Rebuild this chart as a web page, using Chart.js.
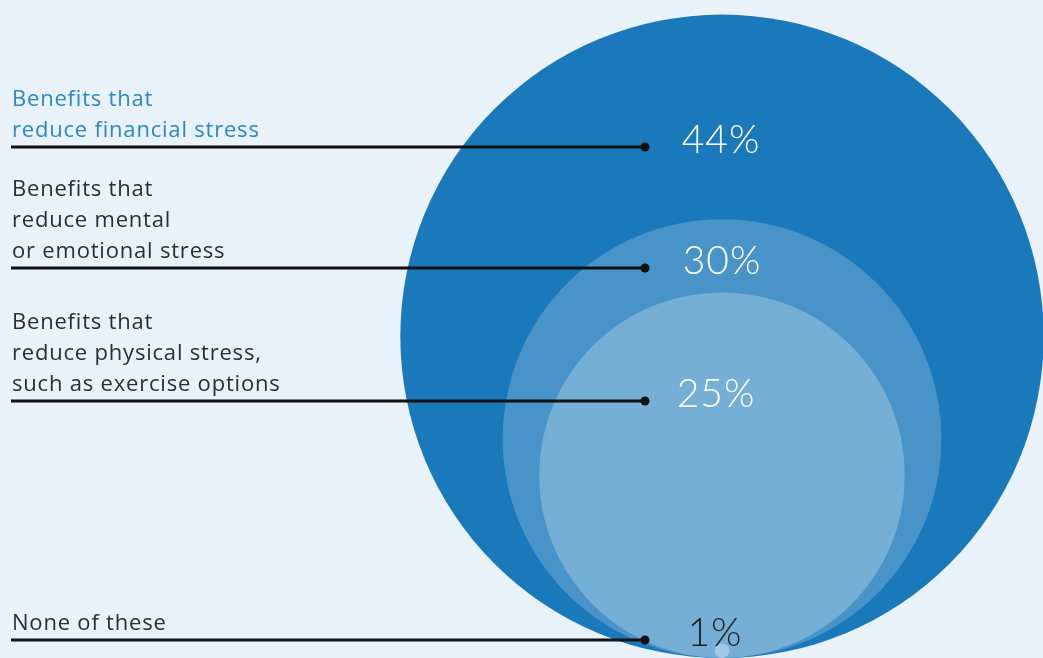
<!DOCTYPE html>
<html>
<head>
<meta charset="utf-8">
<title>Stress-reducing benefits</title>
<script src="https://cdn.jsdelivr.net/npm/chart.js@4/dist/chart.umd.min.js"></script>
<style>
  html, body { margin: 0; padding: 0; background: #e9f1f9; }
  #wrap { position: relative; width: 1043px; height: 658px; }
</style>
</head>
<body>
<div id="wrap"><canvas id="chart"></canvas></div>
<script>
// Share of respondents per benefit type (radius of each circle follows the value)
const categories = [
    ['Benefits that', 'reduce financial stress'],
    ['Benefits that', 'reduce mental', 'or emotional stress'],
    ['Benefits that', 'reduce physical stress,', 'such as exercise options'],
    ['None of these']
];
const shares = [44, 30, 25, 1];

// Look & layout
const circleColors = ['#1a79bb', '#4894c8', '#76afd6', '#a3c9e5'];
const labelColors = ['#2a87c9', '#2e2e2e', '#2e2e2e', '#2e2e2e'];
const pctColors = ['#ffffff', '#ffffff', '#ffffff', '#1f1f1f'];
const leaderY = [147, 268, 401, 640];      // leader line rows (px)
const pctX = [721, 722, 716, 715];         // value label centres (px)
const LABEL_FONT = '"Open Sans", "Noto Sans", sans-serif';
const PCT_FONT = 'Lato, "Open Sans", sans-serif';

const points = shares.map(v => ({ x: 0, y: v, v: v }));

// px per value unit, taken from the y scale so circles sit on the baseline
function unitPx(chart) {
    const y = chart.scales.y;
    return y.getPixelForValue(0) - y.getPixelForValue(1);
}

const annotations = {
    id: 'annotations',
    afterDatasetsDraw(chart) {
        const ctx = chart.ctx;
        ctx.save();

        // leader lines with end dots
        ctx.strokeStyle = '#111';
        ctx.fillStyle = '#111';
        ctx.lineWidth = 3;
        leaderY.forEach(y => {
            ctx.beginPath();
            ctx.moveTo(11, y);
            ctx.lineTo(645, y);
            ctx.stroke();
            ctx.beginPath();
            ctx.arc(645, y, 4.5, 0, Math.PI * 2);
            ctx.fill();
        });

        // category labels, bottom line sits just above the leader
        ctx.font = '22px ' + LABEL_FONT;
        ctx.letterSpacing = '0.8px';
        ctx.textAlign = 'left';
        ctx.textBaseline = 'alphabetic';
        categories.forEach((lines, i) => {
            ctx.fillStyle = labelColors[i];
            const last = leaderY[i] - 10;
            lines.forEach((t, j) => {
                ctx.fillText(t, 12, last - (lines.length - 1 - j) * 31);
            });
        });

        // value labels
        ctx.letterSpacing = '1px';
        ctx.font = '300 39px ' + PCT_FONT;
        ctx.textAlign = 'center';
        ctx.textBaseline = 'middle';
        shares.forEach((v, i) => {
            ctx.fillStyle = pctColors[i];
            ctx.fillText(v + '%', pctX[i], leaderY[i] - 7);
        });

        ctx.restore();
    }
};

const chart = new Chart(document.getElementById('chart'), {
    type: 'scatter',
    data: {
        datasets: [{
            data: points,
            backgroundColor: circleColors,
            borderWidth: 0,
            pointRadius: c => c.raw ? c.raw.v * unitPx(c.chart) : 0,
            pointHoverRadius: c => c.raw ? c.raw.v * unitPx(c.chart) : 0,
            pointHoverBorderWidth: 0
        }]
    },
    options: {
        responsive: true,
        maintainAspectRatio: false,
        animation: false,
        layout: { padding: 0 },
        clip: false,
        events: [],
        plugins: {
            legend: { display: false },
            tooltip: { enabled: false }
        },
        scales: {
            x: { display: false, min: -722, max: 321 },
            y: { display: false, min: 0, max: 90 }
        }
    },
    plugins: [annotations]
});
</script>
</body>
</html>
